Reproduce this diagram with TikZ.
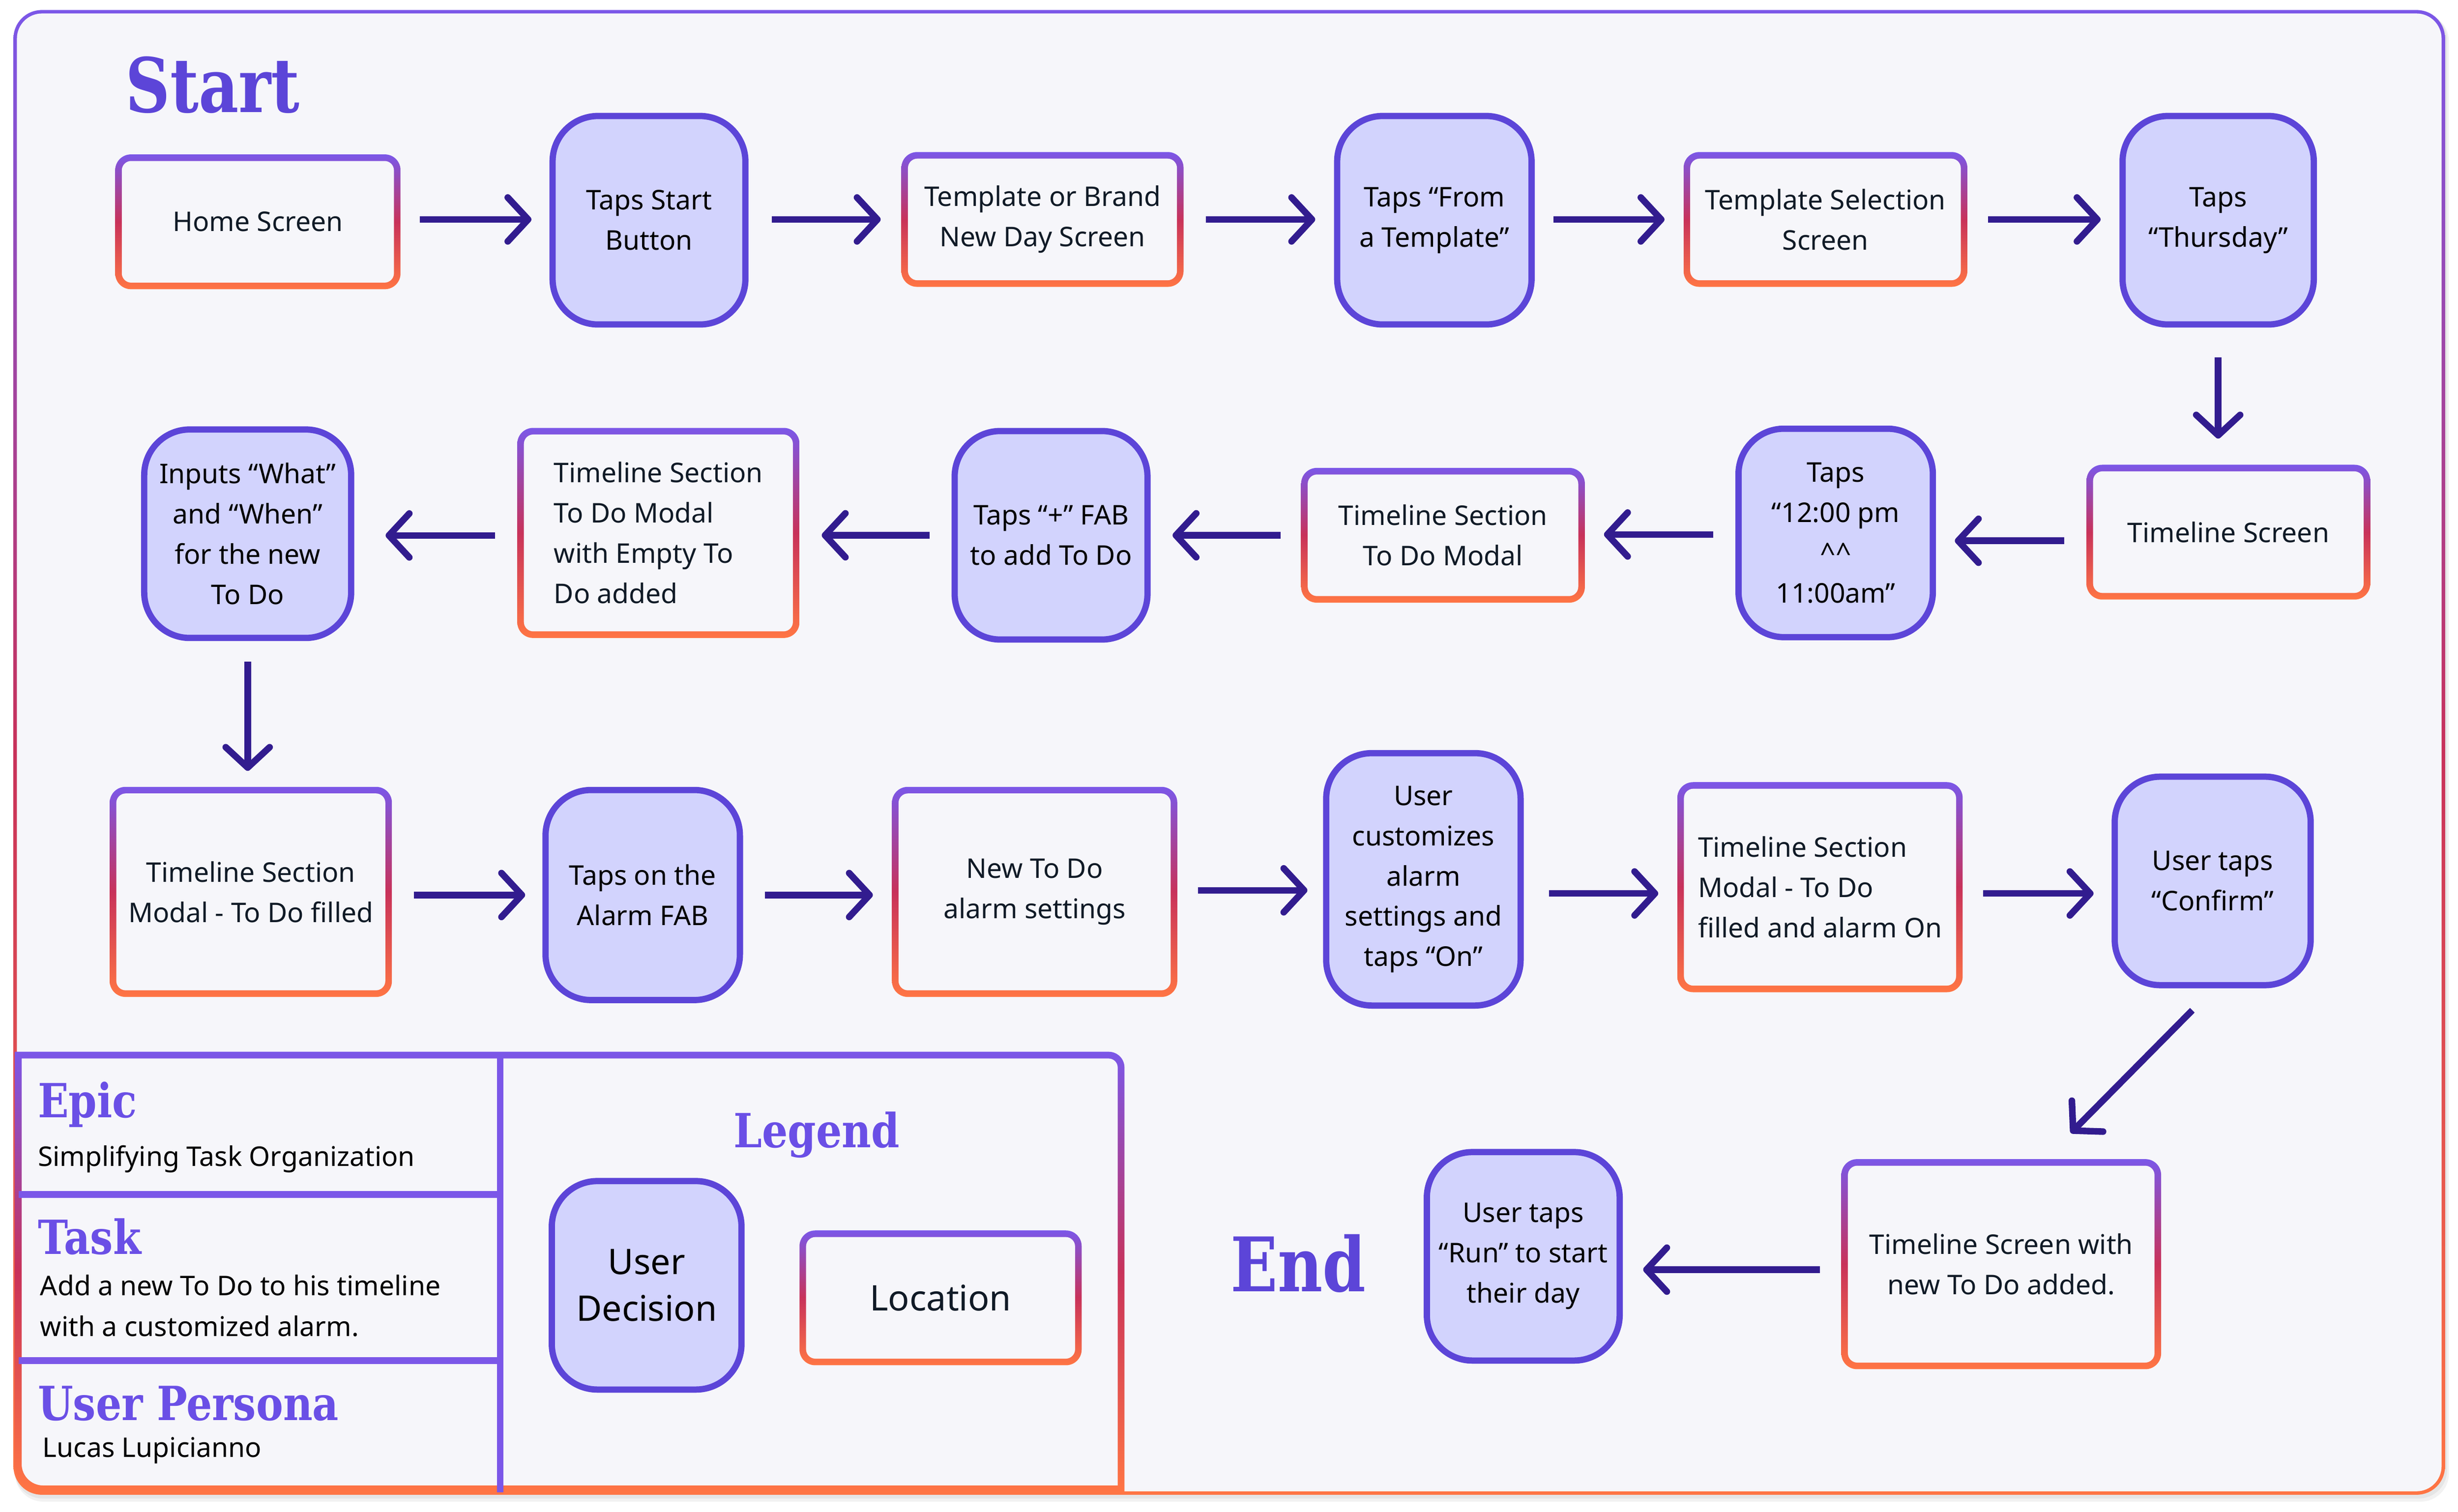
\documentclass[tikz,border=0pt]{standalone}
\usepackage{fontspec}
\setmainfont{Noto Sans}
\newfontfamily\slabfont[FakeStretch=0.82]{DejaVu Serif}
\newfontfamily\slablg[FakeStretch=0.86]{DejaVu Serif}
\usetikzlibrary{arrows.meta}
\definecolor{bgc}{HTML}{F6F6FA}
\definecolor{purp}{HTML}{7B57E8}
\definecolor{crim}{HTML}{C8325A}
\definecolor{orng}{HTML}{FF7544}
\definecolor{decf}{HTML}{D2D3FD}
\definecolor{decb}{HTML}{5C45D8}
\definecolor{arrowc}{HTML}{321C8F}
\definecolor{titlec}{HTML}{5C45D8}
\definecolor{legc}{HTML}{6A4FE6}
\definecolor{loctext}{HTML}{101A26}
\newcommand\txtbody{\fontsize{17.3}{25.7}\selectfont}
\newcommand\txtbig{\fontsize{22.5}{30}\selectfont}
\begin{document}
\begin{tikzpicture}[x=1pt,y=-1pt,
  loc/.style={rectangle, rounded corners=10pt, top color=purp, bottom color=orng, middle color=crim,
    minimum width=180pt, minimum height=86pt, inner sep=0pt, align=center, text=loctext, font=\txtbody,
    path picture={\fill[bgc, rounded corners=6pt]
      ([shift={(4.2pt,4.2pt)}]path picture bounding box.south west) rectangle
      ([shift={(-4.2pt,-4.2pt)}]path picture bounding box.north east);}},
  dec/.style={rectangle, rounded corners=29pt, draw=decb, line width=4pt, fill=decf,
    minimum width=123pt, minimum height=133pt, inner sep=0pt, align=center, text=black, font=\txtbody},
  flow/.style={draw=arrowc, line width=4.2pt, -{Straight Barb[length=13pt,width=28pt,round]}},
  bigtitle/.style={anchor=base west, inner sep=0pt, text=titlec, font=\slabfont\bfseries\fontsize{48}{50}\selectfont},
  legtitle/.style={anchor=base west, inner sep=0pt, text=legc, font=\slablg\bfseries\fontsize{30}{32}\selectfont},
  legtext/.style={anchor=base west, inner sep=0pt, text=black, font=\txtbody}
]
\useasboundingbox (0,0) rectangle (1568,964.4);
\fill[white] (0,0) rectangle (1568,964.4);
% shadow
\fill[black, opacity=0.05, rounded corners=18pt] (9.6,8.4) rectangle (1562.2,958);
\fill[black, opacity=0.05, rounded corners=18pt] (9.2,7.6) rectangle (1561,956);
% frame
\shade[top color=purp, bottom color=orng, middle color=crim, rounded corners=18pt] (8.6,6.4) rectangle (1559.7,953.6);
\fill[bgc, rounded corners=16pt] (10.8,8.6) rectangle (1557.5,951.4);

% legend frame
\shade[top color=purp, bottom color=orng, middle color=crim, even odd rule]
  (9.5,671) -- (707.3,671) arc[start angle=90,end angle=0,radius=10pt] -- (717.3,952) -- (27.5,952)
    arc[start angle=270,end angle=180,radius=18pt] -- cycle
  (13.8,675.3) -- (707.3,675.3) arc[start angle=90,end angle=0,radius=5.7pt] -- (713,947.7) -- (27.5,947.7)
    arc[start angle=270,end angle=180,radius=13.7pt] -- cycle;
\draw[purp, line width=4pt] (319,671) -- (319,952);
\draw[purp, line width=4.3pt] (12,762) -- (319,762);
\draw[purp, line width=4.3pt] (12,868) -- (319,868);

% titles
\node[bigtitle] (start) at (80,71.5) {Start};
\node[bigtitle] (end) at (785,824) {End};
\node[legtitle] (epic) at (24,713) {Epic};
\node[legtext] (epictxt) at (24,744) {Simplifying Task Organization};
\node[legtitle] (task) at (24,800) {Task};
\node[legtext] (tasktxt1) at (25.5,826.5) {Add a new To Do to his timeline};
\node[legtext] (tasktxt2) at (25.5,852.6) {with a customized alarm.};
\node[legtitle] (persona) at (24,906) {User Persona};
\node[legtext] (personatxt) at (27,929.7) {Lucas Lupicianno};
\node[legtitle, anchor=base] (legend) at (521,732) {Legend};
\node[dec, minimum width=121pt, font=\txtbig] (legdec) at (412.5,820) {User\\Decision};
\node[loc, font=\txtbig] (legloc) at (600,828) {Location};

% row 1
\node[loc, minimum width=182pt] (home) at (164.5,141.5) {Home Screen};
\node[dec] (tapstart) at (414,140.5) {Taps Start\\Button};
\node[loc] (tmpl) at (665,140) {Template or Brand\\New Day Screen};
\node[dec, minimum width=124pt] (taptmpl) at (915,140.5) {Taps “From\\a Template”};
\node[loc, minimum width=181pt] (tsel) at (1164.5,140) {Template Selection\\Screen};
\node[dec, minimum width=122pt] (thurs) at (1415,140.5) {Taps\\“Thursday”};

% row 2
\node[loc, minimum width=181pt] (tls) at (1421.5,339.5) {Timeline Screen};
\node[dec, minimum width=124pt] (t12) at (1171,340) {Taps\\“12:00 pm\\\textasciicircum\textasciicircum\\11:00am”};
\node[loc, minimum width=181pt] (tsm) at (920.5,341.5) {Timeline Section\\To Do Modal};
\node[dec] (plus) at (670.5,341.5) {Taps “+” FAB\\to add To Do};
\node[loc, minimum height=134pt, align=left] (tse) at (420,340) {Timeline Section\\To Do Modal\\with Empty To\\Do added};
\node[dec, minimum width=132pt] (inputs) at (158,340.5) {Inputs “What”\\and “When”\\for the new\\To Do};

% row 3
\node[loc, minimum height=134pt] (tsf) at (160,569) {Timeline Section\\Modal - To Do filled};
\node[dec, minimum width=124pt, minimum height=134pt] (fab) at (410,571) {Taps on the\\Alarm FAB};
\node[loc, minimum width=182pt, minimum height=134pt] (alarm) at (660,569) {New To Do\\alarm settings};
\node[dec, minimum width=124pt, minimum height=161pt] (custom) at (908,561) {User\\customizes\\alarm\\settings and\\taps “On”};
\node[loc, minimum width=182pt, minimum height=134pt, align=left] (tsa) at (1161,566) {Timeline Section\\Modal - To Do\\filled and alarm On};
\node[dec, minimum width=125pt] (confirm) at (1411.5,562) {User taps\\“Confirm”};

% row 4
\node[loc, minimum width=204pt, minimum height=134pt] (tlnew) at (1276.6,806.5) {Timeline Screen with\\new To Do added.};
\node[dec] (run) at (971.7,801.5) {User taps\\“Run” to start\\their day};

% arrows row 1
\draw[flow, shorten <=12pt, shorten >=11.5pt] ([yshift=1.5pt]home.east) -- ([yshift=1.5pt]home.east -| tapstart.west);
\draw[flow, shorten <=15pt, shorten >=13pt] (tmpl.west -| tapstart.east) -- (tmpl.west);
\draw[flow, shorten <=14pt, shorten >=12pt] (tmpl.east) -- (tmpl.east -| taptmpl.west);
\draw[flow, shorten <=12pt, shorten >=12pt] (tsel.west -| taptmpl.east) -- (tsel.west);
\draw[flow, shorten <=13pt, shorten >=12pt] (tsel.east) -- (tsel.east -| thurs.west);
\draw[flow, shorten <=19pt, shorten >=16.5pt] (thurs.south) -- (thurs.south |- tls.north);
% arrows row 2
\draw[flow, shorten <=14pt, shorten >=12pt] ([yshift=-5.5pt]tls.west) -- ([yshift=-5.5pt]tls.west -| t12.east);
\draw[flow, shorten <=14pt, shorten >=12pt] ([yshift=-1pt]t12.west) -- ([yshift=-1pt]t12.west -| tsm.east);
\draw[flow, shorten <=13pt, shorten >=14pt] (tsm.west) -- (tsm.west -| plus.east);
\draw[flow, shorten <=14pt, shorten >=14pt] (plus.west) -- (plus.west -| tse.east);
\draw[flow, shorten <=14pt, shorten >=20pt] ([yshift=-1.6pt]tse.west) -- ([yshift=-1.6pt]tse.west -| inputs.east);
\draw[flow, shorten <=13pt, shorten >=10pt] (inputs.south) -- (inputs.south |- tsf.north);
% arrows row 3
\draw[flow, shorten <=14pt, shorten >=11pt] ([yshift=-2pt]tsf.east) -- ([yshift=-2pt]tsf.east -| fab.west);
\draw[flow, shorten <=14pt, shorten >=12pt] (fab.east) -- (fab.east -| alarm.west);
\draw[flow, shorten <=13pt, shorten >=10pt] ([yshift=1pt]alarm.east) -- ([yshift=1pt]alarm.east -| custom.west);
\draw[flow, shorten <=16pt, shorten >=12pt] ([yshift=-9pt]custom.east) -- ([yshift=-9pt]custom.east -| tsa.west);
\draw[flow, shorten <=13pt, shorten >=11.5pt] ([yshift=-4pt]tsa.east) -- ([yshift=-4pt]tsa.east -| confirm.west);
\draw[flow] ([xshift=-13pt,yshift=-14pt]confirm.south) -- ([xshift=44.4pt,yshift=16.5pt]tlnew.north);
% arrow row 4
\draw[flow, shorten <=13.6pt, shorten >=13pt] ([yshift=-3.5pt]tlnew.west) -- ([yshift=-3.5pt]tlnew.west -| run.east);
\end{tikzpicture}
\end{document}
